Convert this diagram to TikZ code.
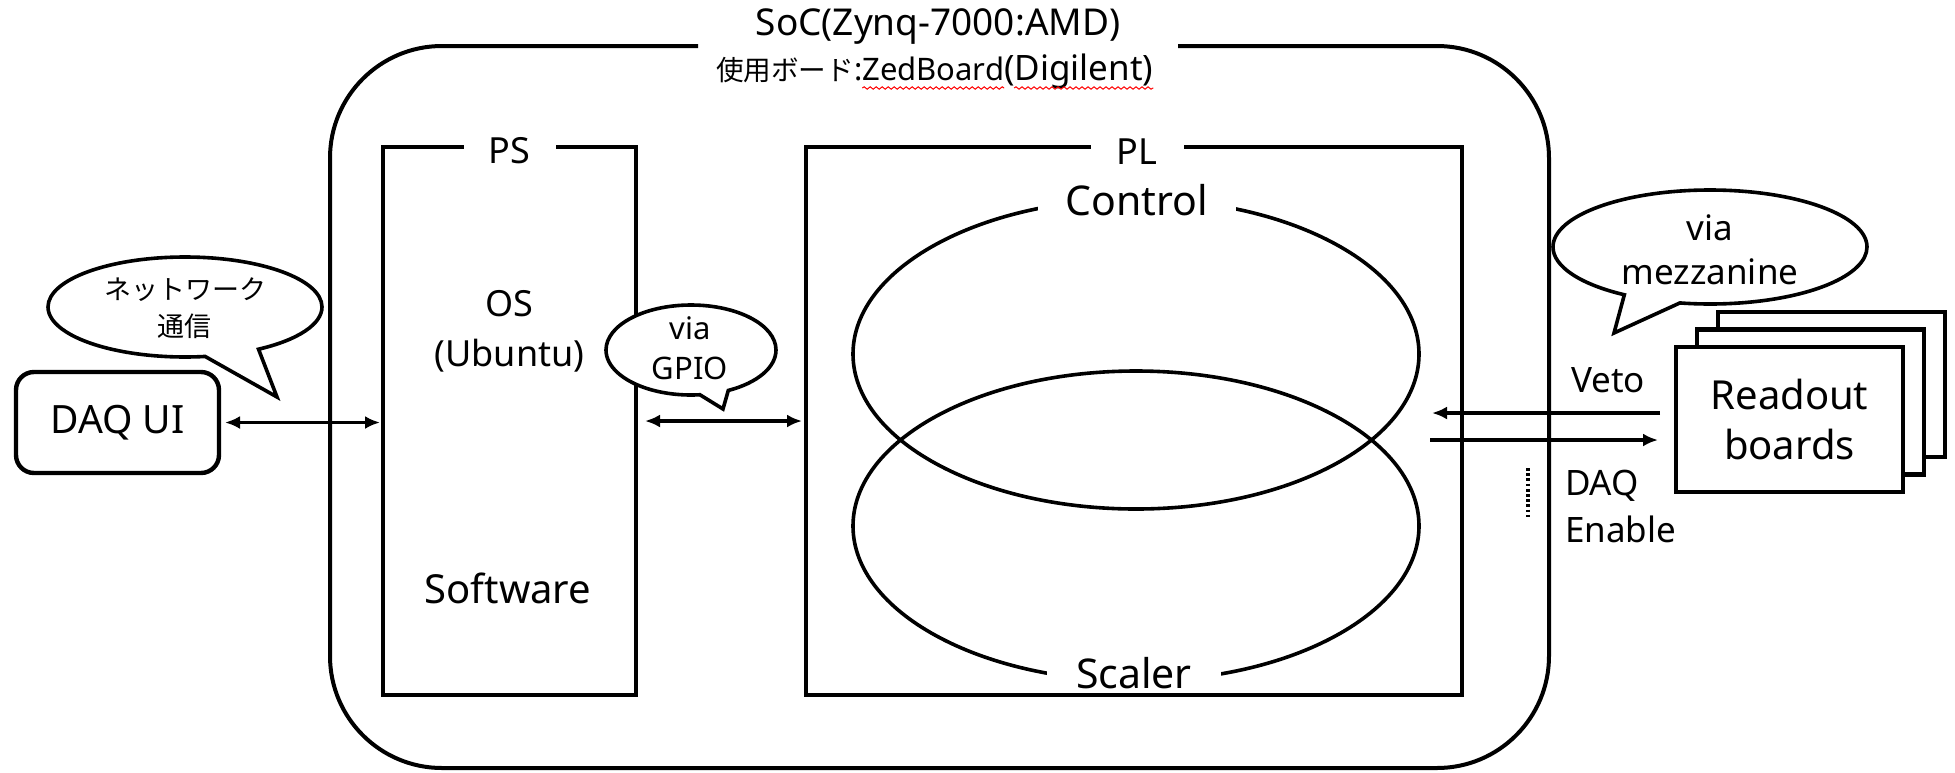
\documentclass[tikz,border=0pt]{standalone}
\usepackage{fontspec}
\setmainfont{Noto Sans}
\newfontfamily\jpfont{Noto Sans CJK JP}
\usetikzlibrary{shapes.geometric,shapes.callouts,arrows.meta,calc,decorations.pathmorphing}
\newcommand\fsz[2]{\fontsize{#1}{#2}\selectfont}
\begin{document}
\begin{tikzpicture}[x=0.5pt,y=-0.5pt,
  txt/.style={inner sep=0pt,outer sep=0pt,text=black},
  outline/.style={draw=black,line width=2pt},
  block/.style={draw=black,line width=2.2pt,inner sep=0pt,outer sep=0pt},
  gaplabel/.style={fill=white,inner ysep=1pt,font=\fsz{18}{22}},
  ring/.style={ellipse,draw=black,line width=1.8pt,inner sep=0pt,minimum width=283pt,minimum height=155pt},
  ringlabel/.style={fill=white,inner ysep=1pt,font=\fsz{20.5}{24}},
  bubble/.style={ellipse callout,draw=black,line width=1.8pt,fill=white,inner sep=0pt},
  board/.style={block,fill=white,minimum width=113.5pt,minimum height=72.5pt},
  arr/.style={line width=1.8pt,-{Latex[length=7.5pt,width=6.5pt]}},
  darr/.style={line width=1.8pt,{Latex[length=7.5pt,width=6.5pt]}-{Latex[length=7.5pt,width=6.5pt]}},
  wavy/.style={draw=red,line width=0.5pt,decorate,decoration={snake,segment length=3pt,amplitude=0.6pt}},
]
\useasboundingbox (0,0) rectangle (1955,772);

% SoC frame with a gap for its title
\node[txt,minimum width=609.5pt,minimum height=361pt] (soc) at (939.5,407) {};
\draw[outline,rounded corners=56pt] ($(soc.north)+(238.5,0)$) -- (soc.north east) -- (soc.south east)
  -- (soc.south west) -- (soc.north west) -- ($(soc.north)+(-241.5,0)$);
\node[txt,anchor=base,font=\fsz{18.5}{22}] (title) at (938,35) {SoC(Zynq-7000:AMD)};
\node[txt,anchor=base west,font=\jpfont\fsz{13.8}{16}] (subj) at (716,80) {使用ボード};
\node[txt,anchor=base west,font=\fsz{15.5}{18}] (subc) at (subj.base east) {:};
\node[txt,anchor=base west,font=\fsz{15.5}{18}] (zed) at (subc.base east) {ZedBoard};
\node[txt,anchor=base west,font=\fsz{17.5}{20}] (dig) at (zed.base east) {(Digilent)};
\draw[wavy] ([yshift=-4pt]zed.base west) -- ([yshift=-4pt]zed.base east);
\draw[wavy] ([yshift=-4pt,xshift=5pt]dig.base west) -- ([yshift=-4pt]dig.base east);

% PS and PL blocks
\node[block,minimum width=126.5pt,minimum height=274pt] (ps) at (509.5,421) {};
\node[txt,gaplabel,minimum width=46pt] (pslab) at ($(ps.north)+(0,4)$) {PS};
\node[block,minimum width=328pt,minimum height=274pt] (pl) at (1134,421) {};
\node[txt,gaplabel,minimum width=46.5pt] (pllab) at ($(pl.north)+(3,5)$) {PL};

% PL contents
\node[ring] (ctrl) at (1136,354) {};
\node[ring] (scal) at (1136,526) {};
\node[txt,ringlabel,inner xsep=14pt] (ctrllab) at (1137,200) {Control};
\node[txt,ringlabel,inner xsep=14.5pt] (scallab) at (1134,673) {Scaler};

% PS contents
\node[txt,align=center,font=\fsz{18}{25}] (os) at (509.5,331) {OS\\(Ubuntu)};
\node[txt,font=\fsz{20}{24}] (sw) at (508,588) {Software};

% DAQ UI
\node[block,rounded corners=9pt,minimum width=101.5pt,minimum height=50.5pt,font=\fsz{19.5}{23}] (daq) at (117.5,422.5) {DAQ UI};

% links
\draw[darr,shorten <=3pt,shorten >=1.5pt] (daq.east) -- (daq.east -| ps.west);
\draw[darr,shorten <=4.5pt,shorten >=2pt] (ps.east) -- (ps.east -| pl.west);

% speech bubbles
\coordinate (nettip) at (277,397);
\node[bubble,minimum width=137pt,minimum height=50pt,callout absolute pointer={(nettip)},callout pointer arc=24] (netb) at (185,307) {};
\node[txt,align=center,font=\jpfont\fsz{13.5}{18.5}] (nettxt) at (185,308) {ネットワーク\\通信};

\coordinate (gpiotip) at (723,409);
\node[bubble,minimum width=85pt,minimum height=45pt,callout absolute pointer={(gpiotip)},callout pointer arc=20] (gpiob) at (691,350) {};
\node[txt,align=center,font=\fsz{15.5}{20}] (gpiotxt) at (690,348) {via\\GPIO};

\coordinate (meztip) at (1614,333);
\node[bubble,minimum width=157pt,minimum height=57pt,callout absolute pointer={(meztip)},callout pointer arc=22] (mezb) at (1710,247) {};
\node[txt,align=center,font=\fsz{17.5}{22}] (meztxt) at (1710,250) {via\\mezzanine};

% readout board stack
\node[board] (rb3) at (1831.5,384.5) {};
\node[board] (rb2) at (1810.5,402) {};
\node[board,align=center,font=\fsz{20}{25}] (rb1) at (1789.5,419.5) {Readout\\boards};

% signals between PL and the boards
\coordinate (vetoin) at (1432,413);
\coordinate (enout) at (1430,440);
\draw[arr] ($(rb1.west)+(-16,-6.5)$) -- (vetoin);
\draw[arr] (enout) -- ($(rb1.west)+(-18,20.5)$);
\node[txt,font=\fsz{17.5}{22}] (veto) at (1608,380) {Veto};
\node[txt,align=left,anchor=west,font=\fsz{17.5}{23.5}] (en) at (1565,506.5) {DAQ\\Enable};
\draw[line width=1.9pt,dash pattern=on 1.4pt off 1.2pt] (1528,468) -- (1528,517);
\end{tikzpicture}
\end{document}
